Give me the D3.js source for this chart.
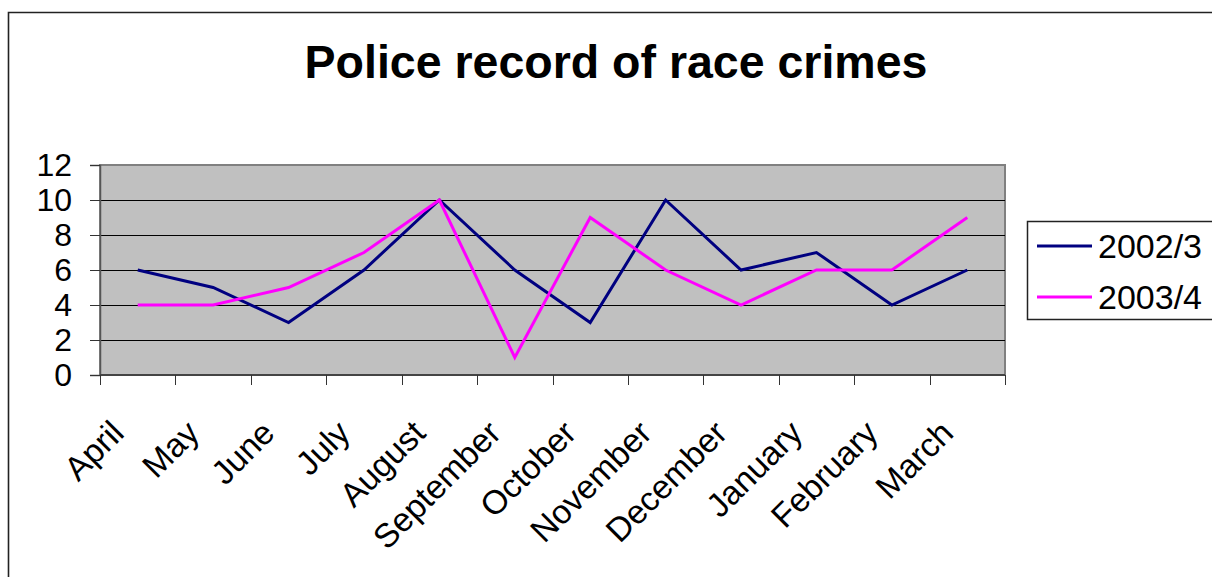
<!DOCTYPE html>
<html>
<head>
<meta charset="utf-8">
<script src="https://cdn.jsdelivr.net/npm/d3@7/dist/d3.min.js"></script>
<style>
  html, body { margin: 0; padding: 0; background: #fff; }
  svg { display: block; font-family: "Liberation Sans", Arial, sans-serif; }
</style>
</head>
<body>
<svg id="chart" width="1212" height="577"></svg>
<script>
// Monthly race crime counts recorded by police, two financial years
const months = ["April", "May", "June", "July", "August", "September",
                "October", "November", "December", "January", "February", "March"];
const series2002 = [6, 5, 3, 6, 10, 6, 3, 10, 6, 7, 4, 6];
const series2003 = [4, 4, 5, 7, 10, 1, 9, 6, 4, 6, 6, 9];
const seriesNames = ["2002/3", "2003/4"];
const yTicks = [0, 2, 4, 6, 8, 10, 12];
const titleText = "Police record of race crimes";

const svg = d3.select("#chart");

// Outer chart frame
svg.append("path")
  .attr("d", "M8.5,577 L8.5,12.5 L1212,12.5")
  .attr("fill", "none")
  .attr("stroke", "#222")
  .attr("stroke-width", 1.6);

// Title
svg.append("text")
  .attr("x", 616)
  .attr("y", 78)
  .attr("text-anchor", "middle")
  .attr("font-size", 46.5)
  .attr("font-weight", "bold")
  .text(titleText);

const plot = { left: 100, right: 1005, top: 165, bottom: 375 };

const x = d3.scaleBand()
  .domain(months)
  .range([plot.left, plot.right])
  .padding(0);

const y = d3.scaleLinear()
  .domain([0, 12])
  .range([plot.bottom, plot.top]);

// Plot background
svg.append("rect")
  .attr("x", plot.left)
  .attr("y", plot.top)
  .attr("width", plot.right - plot.left)
  .attr("height", plot.bottom - plot.top)
  .attr("fill", "#c0c0c0")
  .attr("stroke", "#808080")
  .attr("stroke-width", 2);

// Horizontal gridlines
svg.append("g")
  .selectAll("line")
  .data(yTicks.filter(v => v > 0 && v < 12))
  .join("line")
  .attr("x1", plot.left)
  .attr("x2", plot.right)
  .attr("y1", d => Math.round(y(d)) + 0.5)
  .attr("y2", d => Math.round(y(d)) + 0.5)
  .attr("stroke", "#000")
  .attr("stroke-width", 1);

// Y axis
const yAxis = svg.append("g")
  .attr("transform", `translate(${plot.left},0)`)
  .call(d3.axisLeft(y).tickValues(yTicks).tickSize(10).tickPadding(18));
yAxis.select(".domain").attr("stroke", "#555").attr("stroke-width", 1.5);
yAxis.selectAll(".tick line").attr("stroke", "#333");
yAxis.selectAll("text")
  .attr("font-size", 32)
  .attr("font-family", "Liberation Sans, Arial, sans-serif")
  .attr("fill", "#000");

// X axis: tick marks on category boundaries
const boundaries = months.map(m => x(m)).concat([plot.right]);
const xAxis = svg.append("g");
xAxis.append("line")
  .attr("x1", plot.left).attr("x2", plot.right)
  .attr("y1", plot.bottom).attr("y2", plot.bottom)
  .attr("stroke", "#444").attr("stroke-width", 2);
xAxis.selectAll("line.tick")
  .data(boundaries)
  .join("line")
  .attr("class", "tick")
  .attr("x1", d => Math.round(d) + 0.5)
  .attr("x2", d => Math.round(d) + 0.5)
  .attr("y1", plot.bottom)
  .attr("y2", plot.bottom + 10)
  .attr("stroke", "#333")
  .attr("stroke-width", 1);

// Rotated month labels
xAxis.selectAll("text")
  .data(months)
  .join("text")
  .attr("transform", d => `translate(${x(d) + x.bandwidth() / 2 - 12},435) rotate(-45)`)
  .attr("text-anchor", "end")
  .attr("font-size", 33.5)
  .attr("fill", "#000")
  .text(d => d);

// Lines
const colors = ["#000080", "#ff00ff"];
const line = d3.line()
  .x((d, i) => x(months[i]) + x.bandwidth() / 2)
  .y(d => y(d));

[series2002, series2003].forEach((vals, k) => {
  svg.append("path")
    .datum(vals)
    .attr("fill", "none")
    .attr("stroke", colors[k])
    .attr("stroke-width", 3)
    .attr("stroke-linejoin", "miter")
    .attr("d", line);
});

// Legend
const legend = svg.append("g");
legend.append("rect")
  .attr("x", 1027.5)
  .attr("y", 221.5)
  .attr("width", 200)
  .attr("height", 98)
  .attr("fill", "#fff")
  .attr("stroke", "#222")
  .attr("stroke-width", 1.5);

const legendRows = [246, 297];
seriesNames.forEach((name, k) => {
  legend.append("line")
    .attr("x1", 1037).attr("x2", 1092)
    .attr("y1", legendRows[k]).attr("y2", legendRows[k])
    .attr("stroke", colors[k])
    .attr("stroke-width", 3);
  legend.append("text")
    .attr("x", 1098)
    .attr("y", legendRows[k] + 12)
    .attr("font-size", 34)
    .attr("fill", "#000")
    .text(name);
});
</script>
</body>
</html>
